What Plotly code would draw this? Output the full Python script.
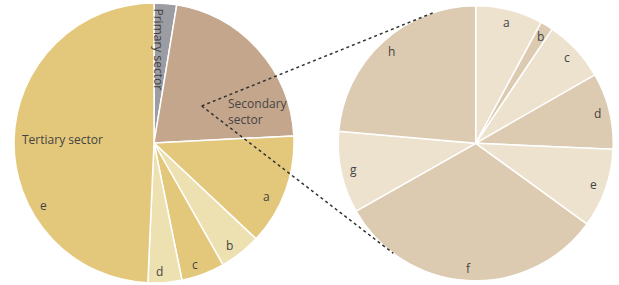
import math
import plotly.graph_objects as go

# ---- data ----
left_labels = ["Primary sector", "Secondary sector", "a", "b", "c", "d", "e"]
left_values = [2.6, 21.6, 12.8, 4.8, 5.0, 3.9, 49.3]
right_labels = ["a", "b", "c", "d", "e", "f", "g", "h"]
right_values = [7.9, 1.5, 7.3, 9.0, 9.3, 31.8, 9.6, 23.6]

# ---- style ----
W, H = 619, 285
left_colors = ["#9c9da2", "#c4a68c", "#e3c77a", "#ede1b1", "#e3c77a", "#ede1b1", "#e3c77a"]
right_colors = ["#ede2ce", "#dccab1", "#ede2ce", "#dccab1", "#ede2ce", "#dccab1", "#ede2ce", "#dccab1"]
txt_color = "#444444"
FONT = "Open Sans"

L_c, L_r = (154.0, 143.0), 140.0
R_c, R_r = (475.7, 143.3), 137.5


def dom(c, r):
    return dict(x=[(c[0] - r) / W, (c[0] + r) / W],
                y=[(H - c[1] - r) / H, (H - c[1] + r) / H])


fig = go.Figure()
for labels, values, colors, c, r in [
    (left_labels, left_values, left_colors, L_c, L_r),
    (right_labels, right_values, right_colors, R_c, R_r),
]:
    fig.add_trace(go.Pie(
        labels=labels, values=values, sort=False, direction="clockwise", rotation=0,
        marker=dict(colors=colors, line=dict(color="white", width=1.5)),
        textinfo="none", hoverinfo="skip", showlegend=False, domain=dom(c, r),
    ))


def polar(c, r, ang, frac):
    a = math.radians(ang)
    return c[0] + frac * r * math.sin(a), c[1] - frac * r * math.cos(a)


def mid_angles(values):
    tot = sum(values)
    out, cum = [], 0.0
    for v in values:
        out.append((cum + v / 2) / tot * 360)
        cum += v
    return out


annotations = []


def add_text(x, y, text, **kw):
    d = dict(x=x / W, y=(H - y) / H, xref="paper", yref="paper", text=text,
             xanchor="center", yanchor="middle",
             showarrow=False, font=dict(family=FONT, size=12, color=txt_color))
    d.update(kw)
    annotations.append(d)


# right pie labels
for lab, ang in zip(right_labels, mid_angles(right_values)):
    x, y = polar(R_c, R_r, ang, 0.91)
    add_text(x, y, lab)

# left pie labels
left_label_pos = {"a": (266.7, 196.7), "b": (230, 245.7), "c": (195, 264.5),
                  "d": (159, 271), "e": (43.3, 205)}
for lab, (x, y) in left_label_pos.items():
    add_text(x, y, lab)
add_text(157.5, 49, "Primary sector", textangle=90)
add_text(226, 111, "Secondary<br>sector", xanchor="left", align="left")
add_text(62.5, 139, "Tertiary sector")

# dotted connector lines
shapes = []
for end in [(433.3, 12.7), (393.3, 253.3)]:
    shapes.append(dict(type="line", xref="paper", yref="paper",
                       x0=201.7 / W, y0=(H - 106) / H, x1=end[0] / W, y1=(H - end[1]) / H,
                       line=dict(color="#333333", width=1.5, dash="dot")))

fig.update_layout(
    width=W, height=H, margin=dict(l=0, r=0, t=0, b=0),
    paper_bgcolor="white", plot_bgcolor="white",
    annotations=annotations, shapes=shapes,
)
fig.write_html("out.html", config={"displayModeBar": False},
               post_script="document.body.style.margin='0';")
